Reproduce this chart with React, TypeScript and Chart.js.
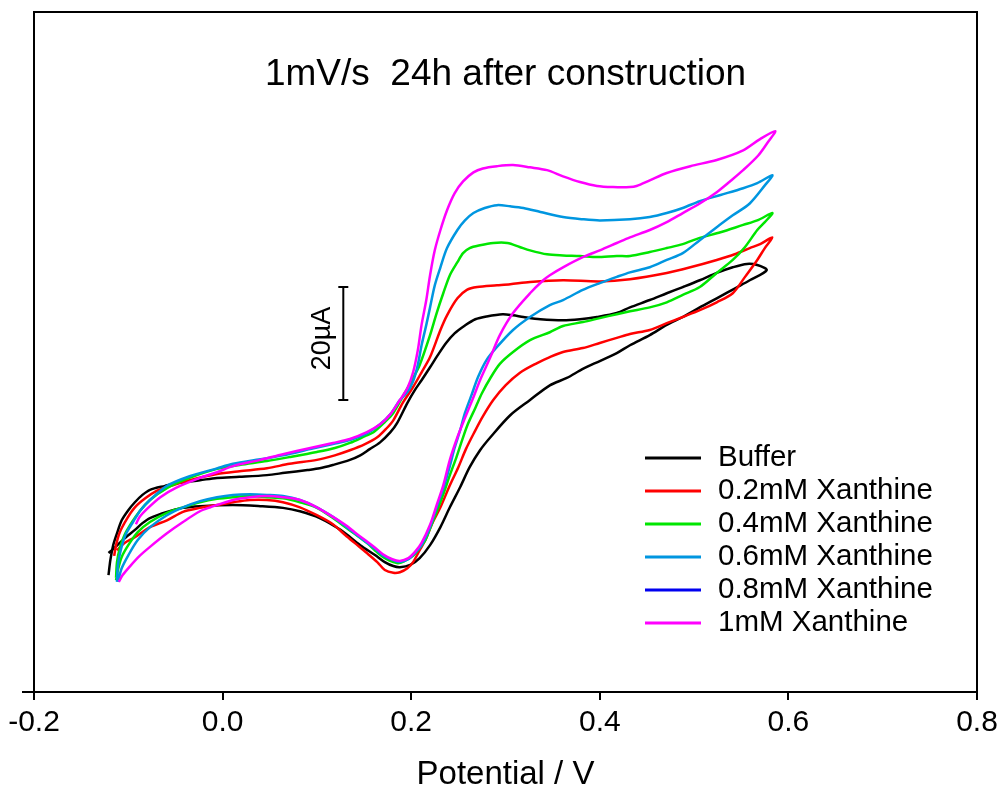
import React, { useEffect, useRef } from "react";
import { Chart, registerables } from "chart.js";

Chart.register(...registerables);

const TITLE = "1mV/s  24h after construction";
const X_LABEL = "Potential / V";
const X_MIN = -0.2;
const X_MAX = 0.8;
const X_STEP = 0.2;
const Y_MIN = 0;
const Y_MAX = 120.4; // current, µA (relative)

const SERIES_LABELS = [
  "Buffer",
  "0.2mM Xanthine",
  "0.4mM Xanthine",
  "0.6mM Xanthine",
  "0.8mM Xanthine",
  "1mM Xanthine",
];
const SERIES_COLORS = ["#000000", "#ff0000", "#00e600", "#0096e0", "#0000f0", "#ff00ff"];

// [potential (V), current (µA)] — forward scan then reverse scan
const buffer: [number, number][] = [
  [-0.121, 20.7], [-0.119, 23.4], [-0.116, 26.0], [-0.112, 28.1], [-0.107, 30.4], [-0.1, 32.2],
  [-0.093, 33.6], [-0.085, 34.9], [-0.077, 35.8], [-0.061, 36.5], [-0.048, 37.0], [-0.024, 37.5],
  [-0.006, 37.9], [0.018, 38.1], [0.047, 38.4], [0.066, 38.8], [0.09, 39.3], [0.103, 39.6],
  [0.117, 40.2], [0.135, 41.1], [0.146, 41.9], [0.156, 43.0], [0.167, 44.2], [0.178, 46.0],
  [0.185, 47.6], [0.196, 51.2], [0.204, 53.5], [0.211, 55.2], [0.22, 57.5], [0.228, 59.6],
  [0.237, 61.8], [0.246, 63.5], [0.257, 64.9], [0.268, 66.0], [0.28, 66.5],
  [0.297, 66.9], [0.308, 66.7], [0.319, 66.4], [0.337, 66.0], [0.361, 65.8], [0.379, 66.0],
  [0.397, 66.4], [0.418, 67.1], [0.432, 68.1], [0.453, 69.4], [0.471, 70.6], [0.488, 71.7],
  [0.506, 72.9], [0.524, 74.2], [0.541, 75.2], [0.556, 75.8], [0.567, 75.6], [0.577, 74.7],
  [0.559, 72.9], [0.546, 71.7], [0.524, 69.7], [0.506, 68.1], [0.488, 66.4], [0.471, 65.0],
  [0.453, 63.2], [0.432, 61.4], [0.418, 60.0], [0.4, 58.6], [0.382, 57.2], [0.365, 55.6],
  [0.347, 54.3], [0.326, 51.7], [0.305, 49.0], [0.284, 45.1], [0.273, 42.8], [0.262, 39.8],
  [0.252, 36.3], [0.241, 32.7], [0.231, 29.2], [0.22, 26.0], [0.209, 23.7], [0.199, 22.5],
  [0.188, 22.1], [0.181, 22.3], [0.172, 23.0], [0.162, 24.2], [0.146, 26.0], [0.125, 28.7],
  [0.103, 30.8], [0.082, 32.0], [0.064, 32.6], [0.04, 32.9], [0.011, 33.1], [-0.024, 32.9],
  [-0.042, 32.6], [-0.059, 31.9], [-0.077, 30.8], [-0.085, 29.9], [-0.093, 28.7], [-0.106, 26.9],
  [-0.116, 25.3], [-0.121, 24.6],
];

const xan02: [number, number][] = [
  [-0.115, 24.1], [-0.113, 26.0], [-0.109, 28.3], [-0.101, 30.8], [-0.093, 32.7], [-0.082, 34.3],
  [-0.07, 35.6], [-0.059, 36.3], [-0.035, 37.5], [-0.006, 38.6], [0.018, 39.1], [0.047, 39.6],
  [0.071, 40.4], [0.1, 41.1], [0.119, 41.9], [0.135, 42.8], [0.151, 43.9], [0.164, 45.1],
  [0.174, 46.7], [0.181, 48.1], [0.191, 51.2], [0.202, 54.0], [0.211, 56.6], [0.22, 59.3],
  [0.231, 64.1], [0.238, 66.7], [0.249, 69.7], [0.259, 71.2], [0.27, 71.7], [0.291, 72.0],
  [0.305, 72.2], [0.326, 72.6], [0.361, 72.9], [0.4, 72.7], [0.432, 73.1], [0.471, 74.2],
  [0.496, 75.2], [0.524, 76.5], [0.543, 77.5], [0.559, 78.6], [0.57, 79.3], [0.583, 80.5],
  [0.575, 78.6], [0.567, 76.5], [0.554, 73.5], [0.541, 70.6], [0.524, 69.0], [0.506, 67.6],
  [0.488, 66.4], [0.471, 65.3], [0.453, 64.1], [0.432, 63.4], [0.418, 62.7], [0.4, 61.8],
  [0.382, 60.9], [0.361, 60.2], [0.347, 59.3], [0.333, 58.2], [0.315, 56.5], [0.3, 54.3],
  [0.287, 51.7], [0.276, 48.8], [0.267, 46.0], [0.258, 43.0], [0.25, 39.8], [0.241, 36.6],
  [0.231, 32.7], [0.223, 30.1], [0.215, 26.9], [0.209, 25.1], [0.202, 23.0], [0.196, 21.9],
  [0.188, 21.2], [0.181, 21.1], [0.172, 21.6], [0.164, 23.0], [0.153, 24.6], [0.14, 26.4],
  [0.13, 27.8], [0.117, 29.7], [0.1, 31.3], [0.082, 32.7], [0.064, 33.6], [0.047, 34.0],
  [0.029, 34.0], [0.011, 33.6], [-0.006, 33.1], [-0.024, 32.6], [-0.042, 31.9], [-0.059, 30.4],
  [-0.077, 29.2], [-0.093, 27.4], [-0.104, 26.4], [-0.112, 25.1],
];

const xan04: [number, number][] = [
  [-0.113, 20.2], [-0.112, 23.0], [-0.109, 25.5], [-0.104, 27.8], [-0.096, 30.1], [-0.088, 32.0],
  [-0.077, 34.0], [-0.059, 36.1], [-0.035, 37.9], [-0.006, 39.5], [0.018, 40.2], [0.047, 40.9],
  [0.071, 41.6], [0.1, 42.5], [0.119, 43.2], [0.135, 44.1], [0.151, 45.3], [0.16, 46.0],
  [0.172, 47.8], [0.181, 49.4], [0.193, 52.9], [0.202, 55.6], [0.209, 57.9], [0.22, 63.2],
  [0.227, 67.1], [0.234, 70.6], [0.241, 73.8], [0.249, 76.1], [0.255, 77.7], [0.262, 78.6],
  [0.273, 79.1], [0.287, 79.5], [0.302, 79.5], [0.315, 78.8], [0.326, 78.2], [0.344, 77.5],
  [0.361, 77.3], [0.379, 77.2], [0.397, 77.0], [0.418, 77.2], [0.432, 77.2], [0.453, 77.9],
  [0.471, 78.6], [0.488, 79.3], [0.506, 80.4], [0.528, 81.4], [0.552, 82.7], [0.567, 83.5],
  [0.583, 84.8],
  [0.575, 83.2], [0.567, 81.8], [0.554, 78.8], [0.541, 76.5], [0.524, 74.2], [0.506, 71.7],
  [0.488, 70.3], [0.471, 69.0], [0.453, 68.1], [0.432, 67.4], [0.418, 66.9], [0.4, 66.2],
  [0.382, 65.5], [0.361, 64.8], [0.347, 63.7], [0.326, 62.3], [0.308, 60.2], [0.294, 58.1],
  [0.284, 55.6], [0.275, 52.9], [0.268, 50.3], [0.26, 47.4], [0.254, 44.6], [0.248, 41.6],
  [0.241, 38.4], [0.234, 35.0], [0.227, 31.9], [0.22, 29.0], [0.215, 26.9], [0.207, 25.1],
  [0.202, 24.1], [0.193, 23.2],
  [0.186, 22.8], [0.178, 23.2], [0.17, 23.9], [0.162, 25.0], [0.153, 26.4], [0.14, 28.0],
  [0.13, 29.2], [0.117, 30.8], [0.1, 32.6], [0.082, 33.6], [0.064, 34.3], [0.047, 34.5],
  [0.029, 34.7], [0.011, 34.5], [-0.006, 34.2], [-0.024, 33.6], [-0.042, 32.7], [-0.059, 31.7],
  [-0.077, 30.1], [-0.09, 28.3], [-0.1, 26.0], [-0.107, 23.9], [-0.111, 21.6], [-0.113, 19.8],
];

const xan06: [number, number][] = [
  [-0.112, 19.5], [-0.111, 22.5], [-0.108, 25.1], [-0.103, 27.8], [-0.095, 30.1], [-0.087, 32.2],
  [-0.077, 34.0], [-0.059, 36.5], [-0.035, 38.2], [-0.006, 39.6], [0.011, 40.4], [0.04, 41.2],
  [0.064, 41.9], [0.093, 43.0], [0.117, 43.9], [0.135, 44.6], [0.153, 45.8], [0.167, 47.4],
  [0.178, 49.2], [0.188, 51.7], [0.196, 53.1], [0.202, 55.0], [0.207, 57.9], [0.211, 61.4],
  [0.216, 65.0], [0.22, 68.1], [0.225, 72.0], [0.231, 75.2], [0.238, 78.6], [0.249, 81.8],
  [0.257, 83.5], [0.266, 84.8], [0.278, 85.7], [0.291, 86.2], [0.305, 86.0], [0.319, 85.7],
  [0.337, 85.0], [0.361, 84.1], [0.382, 83.7], [0.4, 83.5], [0.432, 83.7], [0.453, 84.1],
  [0.471, 84.8], [0.488, 85.7], [0.506, 86.9], [0.528, 88.0], [0.552, 89.2], [0.567, 90.1],
  [0.583, 91.5],
  [0.575, 89.7], [0.559, 86.5], [0.541, 84.4], [0.524, 82.3], [0.506, 80.0], [0.488, 77.7],
  [0.471, 76.5], [0.453, 75.2], [0.432, 74.3], [0.418, 73.5], [0.4, 72.4], [0.382, 71.2],
  [0.361, 69.4], [0.347, 68.5], [0.326, 66.4], [0.308, 64.1], [0.291, 61.1], [0.28, 58.8],
  [0.271, 55.8], [0.264, 52.6], [0.257, 49.4], [0.252, 46.4], [0.246, 43.2], [0.241, 40.0],
  [0.235, 36.5], [0.227, 32.7], [0.22, 29.2], [0.211, 26.0], [0.204, 24.6], [0.197, 23.5],
  [0.188, 23.0], [0.18, 23.4], [0.17, 24.2], [0.162, 25.3], [0.151, 26.7], [0.14, 28.1],
  [0.13, 29.4], [0.117, 31.0], [0.1, 32.7], [0.082, 34.0], [0.064, 34.7], [0.047, 34.9],
  [0.029, 35.0], [0.011, 34.9], [-0.006, 34.5], [-0.024, 33.8], [-0.042, 32.7], [-0.059, 31.3],
  [-0.077, 29.2], [-0.09, 26.9], [-0.1, 24.2], [-0.107, 21.9], [-0.111, 19.5],
];

// 0.8mM trace is not visible in the reference (hidden under the 1mM trace)
const xan08: [number, number][] = [];

const xan10: [number, number][] = [
  [-0.092, 29.7], [-0.088, 31.0], [-0.079, 32.6], [-0.066, 34.5], [-0.05, 36.1], [-0.024, 37.9],
  [-0.006, 38.9], [0.011, 40.0], [0.04, 41.1], [0.064, 42.1], [0.093, 43.2], [0.117, 44.1],
  [0.135, 44.8], [0.153, 46.0], [0.167, 47.4], [0.178, 49.2], [0.188, 51.7], [0.196, 53.8],
  [0.202, 56.6], [0.207, 60.5], [0.211, 65.0], [0.216, 69.4], [0.22, 73.8], [0.225, 78.2],
  [0.231, 81.8], [0.238, 85.3], [0.246, 88.3], [0.255, 90.4], [0.266, 92.0], [0.276, 92.7],
  [0.291, 93.1], [0.308, 93.3], [0.326, 92.9], [0.344, 92.4], [0.361, 91.3], [0.379, 90.3],
  [0.397, 89.6], [0.414, 89.4], [0.432, 89.4], [0.439, 89.6], [0.453, 90.6], [0.471, 91.9],
  [0.496, 93.1], [0.524, 94.2], [0.552, 95.9], [0.57, 97.9], [0.586, 99.3],
  [0.578, 97.3], [0.568, 95.0], [0.552, 92.4], [0.538, 90.4], [0.524, 88.5], [0.506, 86.5],
  [0.488, 84.8], [0.471, 83.2], [0.453, 81.8], [0.432, 80.5], [0.418, 79.5], [0.4, 78.2],
  [0.382, 77.0], [0.361, 75.2], [0.347, 73.8], [0.34, 72.9], [0.326, 70.6], [0.308, 67.1],
  [0.294, 63.2], [0.284, 59.3], [0.273, 55.2], [0.266, 52.2], [0.257, 48.5], [0.249, 45.1],
  [0.241, 41.1], [0.234, 36.6], [0.227, 33.1], [0.22, 29.6], [0.211, 26.4], [0.204, 24.8],
  [0.197, 23.7], [0.188, 23.2], [0.18, 23.5], [0.17, 24.4], [0.162, 25.5], [0.151, 26.9],
  [0.14, 28.3], [0.13, 29.6], [0.117, 31.0], [0.1, 32.7], [0.082, 34.0], [0.064, 34.5],
  [0.047, 34.7], [0.029, 34.5], [0.011, 34.0], [-0.013, 32.7], [-0.024, 32.0], [-0.042, 30.1],
  [-0.059, 28.1], [-0.077, 25.7], [-0.088, 24.1], [-0.098, 22.3], [-0.106, 20.7], [-0.11, 19.5],
];

const SERIES_DATA = [buffer, xan02, xan04, xan06, xan08, xan10];
const SERIES_ORDER = [6, 5, 4, 3, 2, 1];

// 20 µA scale bar
const SCALE_BAR_X = 0.128;
const SCALE_BAR_Y0 = 51.7;
const SCALE_BAR_LEN = 20;
const SCALE_BAR_LABEL = "20µA";

const SANS = "'Liberation Sans', Arial, sans-serif";

const overlay = {
  id: "overlay",
  afterDraw(chart: any) {
    const { ctx, chartArea, scales } = chart;
    const { left, right, top, bottom } = chartArea;
    ctx.save();
    // frame
    ctx.strokeStyle = "#000";
    ctx.lineWidth = 2;
    ctx.lineCap = "square";
    ctx.beginPath();
    ctx.moveTo(left, bottom);
    ctx.lineTo(left, top);
    ctx.lineTo(right, top);
    ctx.lineTo(right, bottom);
    ctx.moveTo(left - 11, bottom);
    ctx.lineTo(right, bottom);
    ctx.stroke();

    // title
    ctx.fillStyle = "#000";
    ctx.font = `37px ${SANS}`;
    ctx.textAlign = "center";
    ctx.textBaseline = "middle";
    ctx.fillText(TITLE, (left + right) / 2, top + 63);

    // scale bar
    const sx = scales.x.getPixelForValue(SCALE_BAR_X);
    const sy0 = scales.y.getPixelForValue(SCALE_BAR_Y0);
    const sy1 = scales.y.getPixelForValue(SCALE_BAR_Y0 + SCALE_BAR_LEN);
    ctx.lineWidth = 2;
    ctx.lineCap = "butt";
    ctx.beginPath();
    ctx.moveTo(sx, sy0);
    ctx.lineTo(sx, sy1);
    ctx.moveTo(sx - 5, sy0);
    ctx.lineTo(sx + 5, sy0);
    ctx.moveTo(sx - 5, sy1);
    ctx.lineTo(sx + 5, sy1);
    ctx.stroke();
    ctx.save();
    ctx.translate(sx - 21, (sy0 + sy1) / 2 - 5);
    ctx.rotate(-Math.PI / 2);
    ctx.font = `27px ${SANS}`;
    ctx.textAlign = "center";
    ctx.textBaseline = "middle";
    ctx.fillText(SCALE_BAR_LABEL, 0, 0);
    ctx.restore();

    // legend
    const lx = right - 332;
    const ly = bottom - 234;
    ctx.font = `29.5px ${SANS}`;
    ctx.textAlign = "left";
    ctx.textBaseline = "middle";
    chart.data.datasets.forEach((ds: any, i: number) => {
      const y = ly + i * 33;
      ctx.strokeStyle = ds.borderColor;
      ctx.lineWidth = 3;
      ctx.beginPath();
      ctx.moveTo(lx, y);
      ctx.lineTo(lx + 56, y);
      ctx.stroke();
      ctx.fillStyle = "#000";
      ctx.fillText(ds.label, lx + 73, y);
    });
    ctx.restore();
  },
};

export default function App() {
  const ref = useRef<HTMLCanvasElement>(null);
  useEffect(() => {
    if (!ref.current) return;
    const chart = new Chart(ref.current, {
      type: "scatter",
      data: {
        datasets: SERIES_LABELS.map((label, i) => ({
          label,
          data: SERIES_DATA[i].map(([x, y]) => ({ x, y })),
          showLine: true,
          borderColor: SERIES_COLORS[i],
          backgroundColor: SERIES_COLORS[i],
          borderWidth: 2.5,
          pointRadius: 0,
          tension: 0.3,
          fill: false,
          order: SERIES_ORDER[i],
        })),
      },
      options: {
        responsive: false,
        animation: false,
        devicePixelRatio: 1,
        layout: { padding: { left: 34, right: 26, top: 12, bottom: 0 } },
        plugins: { legend: { display: false }, tooltip: { enabled: false }, title: { display: false } },
        scales: {
          x: {
            type: "linear",
            min: X_MIN,
            max: X_MAX,
            afterFit: (scale: any) => {
              scale.height = 104;
            },
            ticks: {
              stepSize: X_STEP,
              color: "#000",
              padding: 5,
              font: { family: SANS, size: 30 },
              callback: (v: any) => Number(v).toFixed(1),
            },
            grid: { drawOnChartArea: false, drawTicks: true, tickLength: 8, color: "#000", lineWidth: 2 },
            border: { display: false },
            title: {
              display: true,
              text: X_LABEL,
              color: "#000",
              font: { family: SANS, size: 33, lineHeight: 1 },
              padding: { top: 0, bottom: 5 },
            },
          },
          y: {
            type: "linear",
            min: Y_MIN,
            max: Y_MAX,
            display: false,
          },
        },
      },
      plugins: [overlay],
    });
    return () => chart.destroy();
  }, []);
  return (
    <div style={{ position: "absolute", left: 0, top: 0, width: 1003, height: 796, background: "#fff" }}>
      <canvas ref={ref} width={1003} height={796} style={{ display: "block", width: 1003, height: 796 }} />
    </div>
  );
}
